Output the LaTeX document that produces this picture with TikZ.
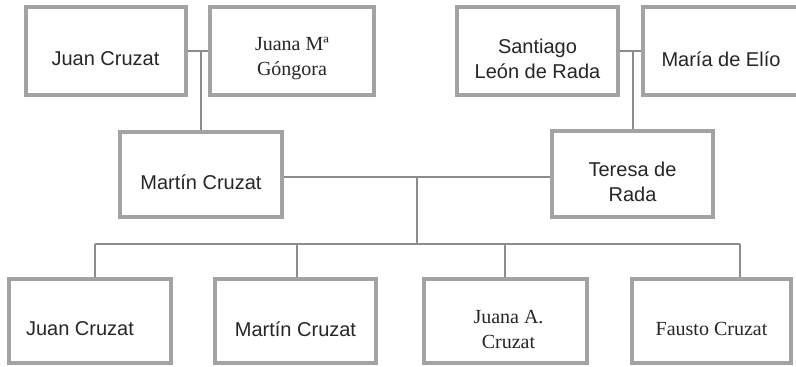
\documentclass[tikz,border=0pt]{standalone}
\usepackage{fontspec}
\setmainfont{Liberation Serif}
\setsansfont{Liberation Sans}
\definecolor{boxgray}{HTML}{A3A3A3}
\definecolor{linegray}{HTML}{8C8C8C}
\definecolor{namegray}{HTML}{262626}

\begin{document}
\begin{tikzpicture}[x=1pt, y=-1pt,
		person/.style={draw=boxgray, line width=4pt, fill=white, minimum width=162pt, minimum height=86pt, inner sep=0pt},
		sname/.style={font=\fontsize{20}{25}\selectfont\sffamily, text=namegray, align=center, yshift=-8pt},
		rname/.style={font=\fontsize{20}{25}\selectfont\rmfamily, text=namegray, align=center, yshift=-8pt},
		link/.style={draw=linegray, line width=2pt}]
		\path[use as bounding box, clip] (0,0) rectangle (796,367);
		% grandparents
		\node [person, minimum width=160pt, minimum height=88pt, label={[sname]center:Juan Cruzat}] (juan) at (105.5,51) {};
		\node [person, minimum width=164pt, minimum height=88pt, label={[rname]center:Juana Mª\\Góngora}] (gongora) at (292,51) {};
		\node [person, minimum width=161pt, minimum height=88pt, label={[sname]center:Santiago\\León de Rada}] (santiago) at (537.5,51) {};
		\node [person, minimum width=164pt, minimum height=88pt, label={[sname, xshift=-4pt]center:María de Elío}] (elio) at (725,51) {};
		% parents
		\node [person, minimum height=85pt, label={[sname]center:Martín Cruzat}] (martin) at (201,174.5) {};
		\node [person, minimum width=161pt, label={[sname]center:Teresa de\\Rada}] (teresa) at (632.5,174) {};
		% children
		\node [person, minimum height=84pt, label={[sname, xshift=-10pt]center:Juan Cruzat}] (juanb) at (90,321) {};
		\node [person, minimum width=161pt, minimum height=84pt, label={[sname]center:Martín Cruzat}] (martinb) at (295.5,321) {};
		\node [person, minimum width=163pt, minimum height=84pt, label={[rname, xshift=3pt]center:Juana A.\\Cruzat}] (juanaa) at (505.5,321) {};
		\node [person, minimum width=159pt, minimum height=84pt, label={[rname]center:Fausto Cruzat}] (fausto) at (711.5,321) {};

		\draw [link] (juan.east) -- (gongora.west);
		\draw [link] (juan.east -| martin.north) -- (martin.north);
		\draw [link] (santiago.east) -- (elio.west);
		\draw [link] (santiago.east -| teresa.north) -- (teresa.north);

		\coordinate (fork) at (417,177);
		\coordinate (bar) at (417,244);
		\draw [link] (martin.east |- fork) -- (teresa.west |- fork);
		\draw [link] (fork) -- (bar);
		\coordinate (drop1) at (95,244);
		\coordinate (drop2) at (297,244);
		\coordinate (drop3) at (505,244);
		\coordinate (drop4) at (740,244);
		\draw [link] (drop1) -- (drop4);
		\foreach \d/\k in {drop1/juanb, drop2/martinb, drop3/juanaa, drop4/fausto}
			\draw [link] (\d) -- (\d |- \k.north);
	\end{tikzpicture}
\end{document}
